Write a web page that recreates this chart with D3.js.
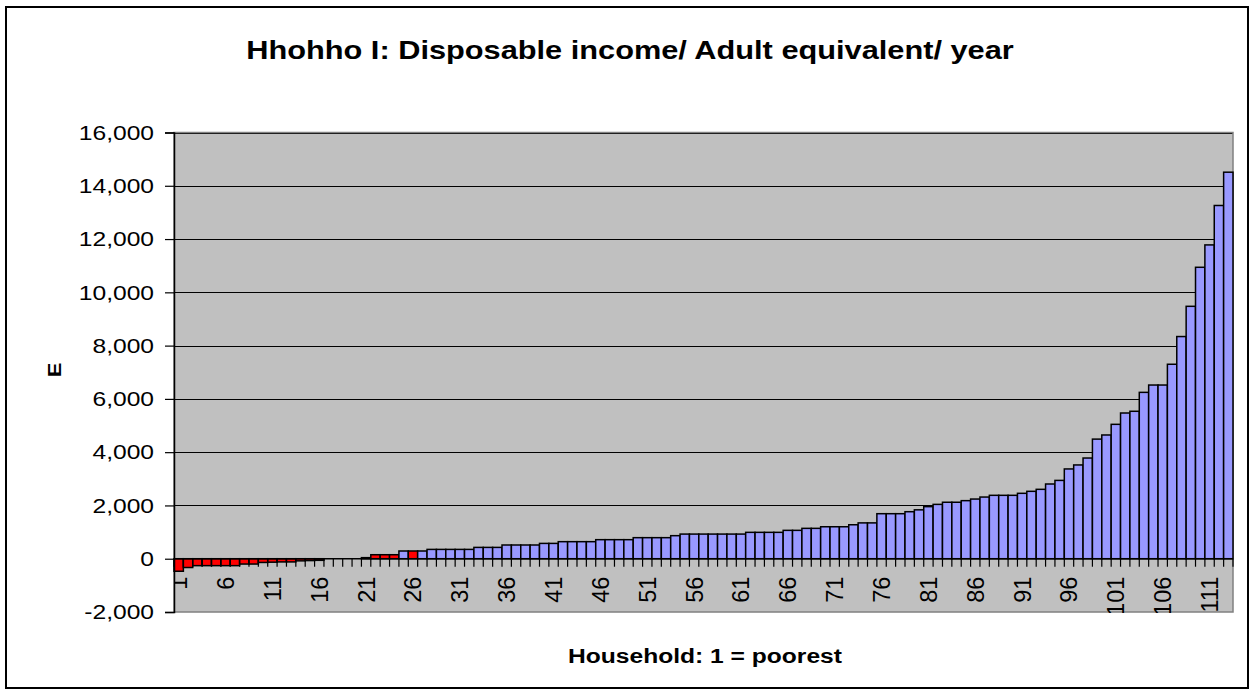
<!DOCTYPE html>
<html>
<head>
<meta charset="utf-8">
<script src="https://cdn.jsdelivr.net/npm/d3@7/dist/d3.min.js"></script>
<style>
  html, body { margin: 0; padding: 0; background: #ffffff; }
  svg { display: block; }
  text { font-family: "Liberation Sans", Arial, sans-serif; fill: #000; }
</style>
</head>
<body>
<svg id="chart" width="1254" height="695"></svg>
<script>
// Households ranked from poorest (1) to richest (113)
const households = d3.range(1, 114);

// Disposable income per adult equivalent per year (E)
const income = [
  -470, -330, -260, -260, -260, -260, -260, -200, -200, -140,
  -130, -120, -120, -80, -70, -60, 0, 0, 0, 0,
  40, 150, 150, 150, 290, 290, 290, 350, 350, 350,
  350, 350, 425, 425, 425, 515, 515, 515, 515, 575,
  575, 640, 640, 640, 640, 715, 715, 715, 715, 790,
  790, 790, 790, 865, 925, 925, 925, 925, 925, 925,
  925, 990, 990, 990, 990, 1065, 1065, 1140, 1140, 1200,
  1200, 1200, 1275, 1345, 1345, 1690, 1690, 1690, 1765, 1835,
  1955, 2040, 2120, 2120, 2180, 2240, 2315, 2380, 2380, 2380,
  2455, 2530, 2605, 2805, 2940, 3370, 3520, 3780, 4490, 4645,
  5045, 5470, 5535, 6245, 6520, 6520, 7300, 8340, 9475, 10940,
  11780, 13260, 14510
];

// Households highlighted in red
const highlighted = [1, 2, 3, 4, 5, 6, 7, 8, 9, 10, 11, 12, 13, 14, 15, 16, 21, 22, 23, 24, 26];

// Axis ticks
const yTicks = [-2000, 0, 2000, 4000, 6000, 8000, 10000, 12000, 14000, 16000];
const yTickLabels = ["-2,000", "0", "2,000", "4,000", "6,000", "8,000", "10,000", "12,000", "14,000", "16,000"];
const xTickLabels = ["1", "6", "11", "16", "21", "26", "31", "36", "41", "46", "51", "56", "61", "66", "71", "76", "81", "86", "91", "96", "101", "106", "111"];

const titleText = "Hhohho I: Disposable income/ Adult equivalent/ year";
const xTitle = "Household: 1 = poorest";
const yTitle = "E";

const svg = d3.select("#chart");
const plot = { left: 174, right: 1233, top: 132.5, bottom: 612 };

const x = d3.scaleBand()
  .domain(households)
  .range([plot.left, plot.right])
  .padding(0);

const y = d3.scaleLinear()
  .domain([yTicks[0], yTicks[yTicks.length - 1]])
  .range([plot.bottom, plot.top]);

const stretch = 1.23; // wide lettering of horizontal labels

// Outer chart frame
svg.append("rect")
  .attr("x", 6).attr("y", 7)
  .attr("width", 1242).attr("height", 681)
  .attr("fill", "#fff")
  .attr("stroke", "#000")
  .attr("stroke-width", 2);

// Title
svg.append("text")
  .attr("transform", `translate(630,59) scale(${stretch},1)`)
  .attr("text-anchor", "middle")
  .attr("font-size", 25)
  .attr("font-weight", "bold")
  .text(titleText);

// Plot area background
svg.append("rect")
  .attr("x", plot.left).attr("y", plot.top)
  .attr("width", plot.right - plot.left)
  .attr("height", plot.bottom - plot.top)
  .attr("fill", "#c0c0c0");

// Horizontal gridlines
svg.append("g")
  .selectAll("line")
  .data(yTicks.filter(v => v !== 0 && v !== yTicks[0]))
  .join("line")
  .attr("x1", plot.left).attr("x2", plot.right)
  .attr("y1", d => Math.round(y(d)) + 0.5)
  .attr("y2", d => Math.round(y(d)) + 0.5)
  .attr("stroke", "#000")
  .attr("stroke-width", 1);

// Plot area border
svg.append("rect")
  .attr("x", plot.left).attr("y", plot.top)
  .attr("width", plot.right - plot.left)
  .attr("height", plot.bottom - plot.top)
  .attr("fill", "none")
  .attr("stroke", "#808080")
  .attr("stroke-width", 1.5);

// Bars
const flagged = new Set(highlighted);
svg.append("g")
  .selectAll("rect")
  .data(households.map((h, i) => ({ h, v: income[i] })))
  .join("rect")
  .attr("x", d => x(d.h))
  .attr("width", x.bandwidth())
  .attr("y", d => y(Math.max(0, d.v)))
  .attr("height", d => Math.abs(y(d.v) - y(0)))
  .attr("fill", d => flagged.has(d.h) ? "#ff0000" : "#9999ff")
  .attr("stroke", "#000")
  .attr("stroke-width", 1.5);

// Category axis along zero
const y0 = y(0);
const boundaries = households.map(h => x(h)).concat([x.range()[1]]);
svg.append("g")
  .selectAll("line")
  .data(boundaries)
  .join("line")
  .attr("x1", d => d).attr("x2", d => d)
  .attr("y1", y0).attr("y2", y0 + 8)
  .attr("stroke", "#000")
  .attr("stroke-width", 1.2);

svg.append("line")
  .attr("x1", plot.left).attr("x2", plot.right)
  .attr("y1", y0).attr("y2", y0)
  .attr("stroke", "#000")
  .attr("stroke-width", 1.5);

// Category labels (clipped by the plot area)
svg.append("clipPath").attr("id", "plotClip")
  .append("rect")
  .attr("x", plot.left).attr("y", plot.top)
  .attr("width", plot.right - plot.left)
  .attr("height", plot.bottom - plot.top + 1);

svg.append("g")
  .attr("clip-path", "url(#plotClip)")
  .selectAll("text")
  .data(xTickLabels)
  .join("text")
  .attr("transform", d => `translate(${x(+d) + x.bandwidth() / 2},${y0 + 18}) rotate(-90)`)
  .attr("text-anchor", "end")
  .attr("dy", "0.36em")
  .attr("font-size", 23.5)
  .text(d => d);

// Value axis
const yAxis = d3.axisLeft(y)
  .tickValues(yTicks)
  .tickSize(9)
  .tickFormat((d, i) => yTickLabels[i]);

const yg = svg.append("g")
  .attr("transform", `translate(${plot.left},0)`)
  .call(yAxis);
yg.select(".domain").attr("stroke", "#000").attr("stroke-width", 1.5);
yg.selectAll(".tick line").attr("stroke", "#000").attr("stroke-width", 1.2);
yg.selectAll(".tick text")
  .attr("x", null)
  .attr("dy", null)
  .attr("font-size", 20)
  .attr("font-family", null)
  .attr("dominant-baseline", "central")
  .attr("transform", `translate(-20,0) scale(${stretch},1)`);
yg.attr("font-family", null).attr("font-size", null);

// Axis titles
svg.append("text")
  .attr("transform", `translate(705,663) scale(${stretch},1)`)
  .attr("text-anchor", "middle")
  .attr("font-size", 20)
  .attr("font-weight", "bold")
  .text(xTitle);

svg.append("text")
  .attr("transform", "translate(61,370) rotate(-90) scale(1,0.85)")
  .attr("text-anchor", "middle")
  .attr("font-size", 22)
  .attr("font-weight", "bold")
  .text(yTitle);
</script>
</body>
</html>
